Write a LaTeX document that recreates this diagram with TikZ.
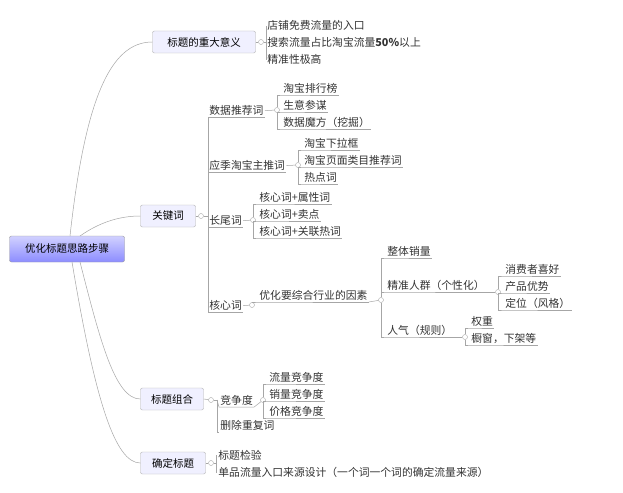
\documentclass[tikz,border=0pt]{standalone}
\usepackage{fontspec}
\setmainfont{Noto Sans CJK SC}
\usepackage{tikz}
\usetikzlibrary{shadings}

\tikzset{
  branch/.style={draw=black!30,rounded corners=2pt,fill=blue!6,inner sep=3pt,
    font=\fontsize{10.5}{11}\selectfont,minimum height=22pt},
  leaf/.style={anchor=south west,inner sep=1.2pt,font=\fontsize{10.8}{11}\selectfont,
    text=black!80},
  edge/.style={draw=black!35,line width=0.5pt},
  fold/.style={circle,draw=black!35,fill=white,inner sep=0pt,minimum size=5pt},
}
% underline + bracket from a fold point to a leaf
\newcommand\hang[2]{\draw[edge] (#1) |- (#2.south west) -- (#2.south east);}

\begin{document}
\begin{tikzpicture}[x=1pt,y=-1pt]
  \useasboundingbox (0,0) rectangle (623,492);
  \fill[white] (0,0) rectangle (623,492);

  %% root and main branches
  \node[draw=black!40,rounded corners=2pt,top color=blue!18,bottom color=blue!45,
    minimum width=115pt,minimum height=26pt,font=\fontsize{10.5}{11}\selectfont]
    (root) at (67,249) {优化标题思路步骤};
  \node[branch,minimum width=103pt] (mean) at (204,42) {标题的重大意义};
  \node[branch,minimum width=55pt] (kw) at (168,216) {关键词};
  \node[branch,minimum width=63pt] (comb) at (172,399) {标题组合};
  \node[branch,minimum width=65pt] (fix) at (173,463) {确定标题};

  \draw[edge] (70,236) .. controls (85,100) and (110,42) .. (mean.west);
  \draw[edge] (80,236) .. controls (100,222) and (120,216) .. (kw.west);
  \draw[edge] (80,262) .. controls (100,340) and (115,399) .. (comb.west);
  \draw[edge] (72,262) .. controls (95,400) and (115,463) .. (fix.west);

  %% 标题的重大意义
  \node[fold] (f1) at (261,42) {};
  \draw[edge] (mean.east) -- (f1);
  \coordinate (b1) at (266,42);
  \draw[edge] (f1) -- (b1);
  \node[leaf] (m1) at (266,32) {店铺免费流量的入口};
  \node[leaf] (m2) at (266,49) {搜索流量占比淘宝流量\textbf{50\%}以上};
  \node[leaf] (m3) at (266,66) {精准性极高};
  \draw[edge] (b1) |- (m1.west); \draw[edge] (b1) |- (m2.west); \draw[edge] (b1) |- (m3.west);

  %% 关键词
  \node[fold] (f2) at (201,216) {};
  \draw[edge] (kw.east) -- (f2);
  \coordinate (b2) at (208,216);
  \draw[edge] (f2) -- (b2);
  \node[leaf] (k1) at (208,117) {数据推荐词};
  \node[leaf] (k2) at (208,172) {应季淘宝主推词};
  \node[leaf] (k3) at (208,227) {长尾词};
  \node[leaf] (k4) at (208,312) {核心词};
  \foreach \k in {k1,k2,k3,k4} {\hang{b2}{\k}}

  \node[fold] (f3) at (277,110) {};
  \draw[edge] (k1.east) -- (f3);
  \node[leaf] (d1) at (282,95) {淘宝排行榜};
  \node[leaf] (d2) at (282,112) {生意参谋};
  \node[leaf] (d3) at (282,129) {数据魔方（挖掘）};
  \foreach \d in {d1,d2,d3} {\hang{f3}{\d}}

  \node[fold] (f4) at (298,165) {};
  \draw[edge] (k2.east) -- (f4);
  \node[leaf] (s1) at (303,150) {淘宝下拉框};
  \node[leaf] (s2) at (303,167) {淘宝页面类目推荐词};
  \node[leaf] (s3) at (303,184) {热点词};
  \foreach \s in {s1,s2,s3} {\hang{f4}{\s}}

  \node[fold] (f5) at (253,220) {};
  \draw[edge] (k3.east) -- (f5);
  \node[leaf] (l1) at (258,204) {核心词+属性词};
  \node[leaf] (l2) at (258,221) {核心词+卖点};
  \node[leaf] (l3) at (258,238) {核心词+关联热词};
  \foreach \l in {l1,l2,l3} {\hang{f5}{\l}}

  \node[fold] (f6) at (252,305) {};
  \draw[edge] (k4.east) -- (f6);
  \node[leaf] (c0) at (258,302) {优化要综合行业的因素};
  \hang{f6}{c0}
  \node[fold] (f7) at (381,300) {};
  \draw[edge] (c0.south east) -- (f7);
  \node[leaf] (c1) at (386,258) {整体销量};
  \node[leaf] (c2) at (386,292) {精准人群（个性化）};
  \node[leaf] (c3) at (386,337) {人气（规则）};
  \foreach \c in {c1,c2,c3} {\hang{f7}{\c}}

  \node[fold] (f8) at (498,292) {};
  \draw[edge] (c2.south east) -- (f8);
  \node[leaf] (p1) at (504,276) {消费者喜好};
  \node[leaf] (p2) at (504,293) {产品优势};
  \node[leaf] (p3) at (504,310) {定位（风格）};
  \foreach \p in {p1,p2,p3} {\hang{f8}{\p}}

  \node[fold] (f9) at (465,337) {};
  \draw[edge] (c3.south east) -- (f9);
  \node[leaf] (r1) at (470,328) {权重};
  \node[leaf] (r2) at (470,345) {橱窗，下架等};
  \foreach \r in {r1,r2} {\hang{f9}{\r}}

  %% 标题组合
  \node[fold] (f10) at (211,400) {};
  \draw[edge] (comb.east) -- (f10);
  \coordinate (b10) at (217,400);
  \draw[edge] (f10) -- (b10);
  \node[leaf] (g1) at (219,407) {竞争度};
  \node[leaf] (g2) at (219,432) {删除重复词};
  \draw[edge] (b10) -- (g1.south west) -- (g1.south east);
  \draw[edge] (b10) |- (g2.south west);
  \node[fold] (f11) at (263,400) {};
  \draw[edge] (g1.south east) -- (f11);
  \node[leaf] (q1) at (268,384) {流量竞争度};
  \node[leaf] (q2) at (268,401) {销量竞争度};
  \node[leaf] (q3) at (268,418) {价格竞争度};
  \foreach \q in {q1,q2,q3} {\hang{f11}{\q}}

  %% 确定标题
  \node[fold] (f12) at (211,463) {};
  \draw[edge] (fix.east) -- (f12);
  \coordinate (b12) at (216,463);
  \draw[edge] (f12) -- (b12);
  \node[leaf] (t1) at (217,462) {标题检验};
  \node[leaf] (t2) at (217,479) {单品流量入口来源设计（一个词一个词的确定流量来源）};
  \draw[edge] (b12) |- (t1.west); \draw[edge] (b12) |- (t2.west);
\end{tikzpicture}
\end{document}
